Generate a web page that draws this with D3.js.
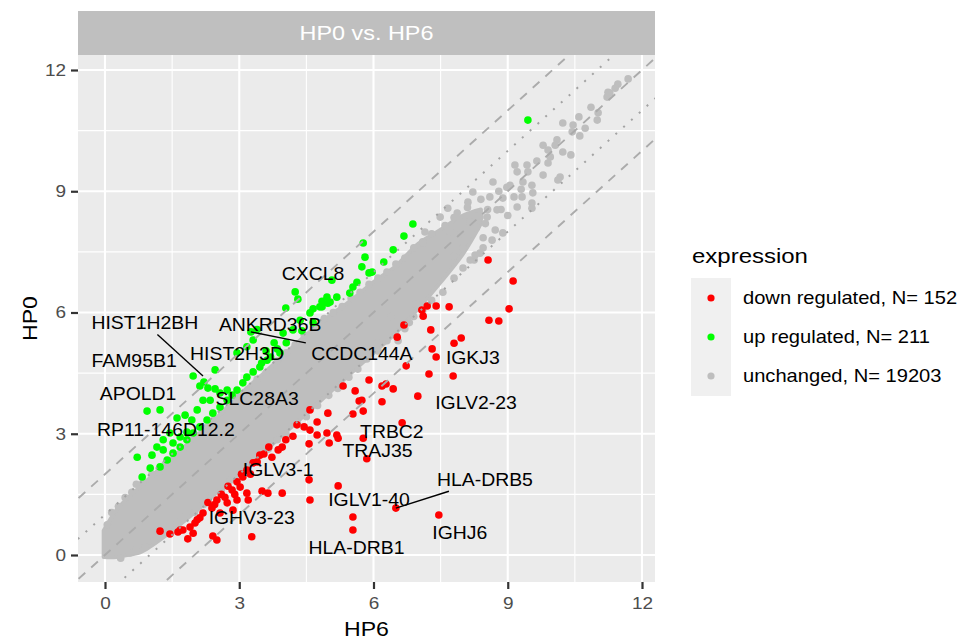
<!DOCTYPE html>
<html><head><meta charset="utf-8">
<script src="https://cdn.jsdelivr.net/npm/d3@7"></script>
<style>body{margin:0;background:#fff} text{font-family:"Liberation Sans",Arial,Helvetica,sans-serif}</style>
</head><body><svg id="c" width="959" height="641"></svg>
<script>
// ---------- data ----------
const xTicks = [0, 3, 6, 9, 12];
const yTicks = [0, 3, 6, 9, 12];
const minorTicks = [1.5, 4.5, 7.5, 10.5];
const refOffsets = [-2, -1, 0, 1, 2];
const refTypes = ["dashed", "dotted", "dashed", "dotted", "dashed"];

// dense core of the unchanged cloud (outline)
const cloudX     = [-0.03, 0.25, 0.5, 0.75, 1.0, 1.5, 2.0, 2.5, 3.0, 3.5, 4.0, 4.5, 5.0, 5.5, 6.0, 6.5, 7.0, 7.5, 8.0, 8.4];
const cloudUpper = [0.6, 1.1, 1.4, 1.65, 1.9, 2.4, 2.9, 3.4, 3.95, 4.45, 4.95, 5.45, 5.9, 6.3, 6.75, 7.15, 7.7, 8.05, 8.4, 8.55];
const cloudLower = [-0.05, -0.05, 0.0, 0.05, 0.2, 0.6, 1.05, 1.55, 2.0, 2.5, 3.0, 3.5, 4.0, 4.5, 5.0, 5.5, 6.1, 6.75, 7.45, 8.2];

const grayPts = [
 [0.05,0.75],[0.15,1.05],[0.3,1.2],[0.45,1.42],[0.6,1.55],[0.7,1.75],[0.85,1.8],[1.05,2.0],[1.2,2.05],[1.35,2.25],
 [1.55,2.45],[1.75,2.6],[1.9,2.85],[2.05,2.95],[2.25,3.15],[2.45,3.35],[2.6,3.55],[2.8,3.7],[3.0,3.95],[3.2,4.1],
 [3.4,4.35],[3.6,4.5],[3.85,4.8],[4.05,5.0],[4.25,5.2],[4.45,5.45],[4.7,5.65],[4.9,5.85],[5.1,6.0],[5.3,6.15],
 [5.5,6.35],[5.7,6.5],[5.9,6.7],[6.1,6.85],[6.3,7.0],[6.5,7.2],[6.7,7.35],[6.9,7.6],[7.1,7.75],[7.3,7.95],
 [7.6,8.15],[7.8,8.35],[8.1,8.6],[8.4,8.8],
 [0.35,-0.08],[0.55,0.05],[0.7,0.15],[0.9,0.2],[1.1,0.35],[1.3,0.5],[1.45,0.58],[1.6,0.8],[1.8,0.95],[2.0,1.05],
 [2.2,1.25],[2.4,1.5],[2.6,1.62],[2.8,1.85],[3.0,1.98],[3.2,2.2],[3.4,2.4],[3.65,2.62],[3.85,2.85],[4.05,2.98],
 [4.3,3.25],[4.5,3.42],[4.75,3.7],[5.0,3.95],[5.2,4.12],[5.45,4.4],[5.65,4.6],[5.85,4.85],[6.1,5.05],[6.3,5.3],
 [6.5,5.45],[6.7,5.6],[6.9,5.9],[7.1,6.05],[7.3,6.3],[7.55,6.5],[7.8,6.85],[8.0,7.1],[8.25,7.3],[8.45,7.6],
 [11.69,11.78],[11.46,11.65],[11.40,11.55],[11.28,11.43],[11.22,11.33],[11.24,11.45],
 [10.86,11.08],[11.02,10.94],[11.0,10.76],[10.59,10.84],[10.73,10.56],[10.61,10.37],[10.44,10.47],[10.46,10.64],[10.23,10.69],
 [10.10,10.27],[10.06,10.14],[9.79,10.14],[9.9,10.02],[10.23,9.97],[10.41,9.90],[10.17,9.35],[10.12,9.28],[9.9,9.70],
 [9.16,9.65],[9.43,9.65],[9.21,9.48],[9.45,9.48],[9.34,9.23],[9.79,9.40],[9.54,9.15],[9.56,8.96],[9.32,8.86],[9.05,9.15],
 [8.98,9.10],[8.67,9.23],[8.60,8.86],[8.22,8.98],[8.11,8.73],
 [9.14,8.86],[9.21,8.61],[9.54,8.71],[9.54,8.58],[8.89,8.83],[8.76,8.54],[8.54,8.36],[8.38,8.36],[7.87,8.46],[7.66,8.58],
 [7.49,8.36],[7.15,7.99],[7.11,7.72],[8.72,8.04],[8.89,7.97],[8.65,7.79],[8.38,7.47],[8.16,7.30],[8.27,7.42],
 [6.55,5.3],[6.8,5.75],[6.95,6.2],[5.95,5.05],[6.1,5.25],[6.4,5.9],
 [8.3,8.1],[8.5,8.2],[8.45,7.85],[8.0,7.6],[7.8,7.4],[7.7,8.0],[8.15,8.25],[7.95,7.95],[8.55,8.55],[8.85,8.55],
 [9.0,8.4],[9.3,9.05],[8.8,9.0],[9.65,9.75],[9.95,9.85]
];

const downPts = [
 [9.03,6.09],[8.58,5.81],[8.80,5.79],[7.96,5.37],[7.80,5.24],[7.28,5.57],[7.31,5.10],[7.40,4.90],[7.24,4.48],[7.78,4.43],
 [6.99,3.93],[6.64,3.27],[6.53,5.39],[6.68,5.69],[7.08,6.06],[7.20,6.16],[7.40,6.16],[7.69,6.14],[7.11,5.91],[6.73,4.68],
 [5.90,4.33],[6.19,4.18],[6.28,4.23],[6.44,4.11],[6.19,3.79],[5.74,3.83],[5.77,3.56],[5.77,2.89],[5.85,2.38],[6.50,1.16],
 [7.46,0.99],[8.56,7.30],[9.12,6.78],
 [5.32,4.18],[5.59,4.06],[5.68,3.81],[4.98,3.51],[5.54,3.49],[4.58,3.59],[4.74,3.29],[4.45,3.17],[4.29,3.22],[4.58,3.09],
 [4.20,2.94],[4.04,2.85],[3.96,2.67],[4.74,2.97],[4.96,3.02],[5.18,2.97],[5.21,2.89],[5.01,2.77],[4.56,2.75],[3.66,2.67],
 [3.87,2.60],[3.73,2.42],[3.46,2.47],[3.31,2.28],[3.17,2.10],[3.08,1.93],[2.95,1.81],[2.84,1.61],[2.68,1.43],[2.50,1.36],
 [2.39,1.16],[2.19,1.04],[2.06,0.87],[1.90,0.69],[3.51,1.58],[3.64,1.53],[3.96,1.53],[4.56,1.86],[4.58,1.36],[5.21,1.71],
 [5.54,0.94],[5.54,0.62],[3.28,0.45],[2.50,0.37],[2.41,0.47],[1.63,0.57],[1.85,0.40],[1.74,0.62],[1.97,0.54],[3.17,1.53],
 [2.95,1.36],[2.73,1.29],[2.57,1.04],[2.86,1.11],[3.20,1.36],[3.02,1.68],[2.12,0.92],[2.01,0.79],[1.68,0.62],[1.23,0.59],
 [1.45,0.52],[2.30,1.30],[2.60,1.50],[2.75,1.70],[2.90,1.50],[3.05,2.00],[3.25,2.00],[3.40,2.30],[3.55,2.50],[2.45,1.25]
];

const upPts = [
 [0.94,3.56],[1.23,3.59],[0.72,2.42],[1.01,2.15],[0.83,1.93],[1.97,4.43],[2.21,4.28],[2.46,4.58],[2.12,4.18],[2.30,4.13],
 [1.61,3.39],[1.79,3.46],[1.94,3.34],[2.06,3.59],[2.19,3.83],[2.46,4.11],[2.35,3.83],[2.57,4.01],[2.73,4.08],[1.05,2.47],
 [1.16,2.67],[1.30,2.85],[1.45,3.02],[1.30,2.60],[1.52,2.77],[1.68,2.92],[1.83,3.04],[2.95,5.00],[3.17,5.15],[3.31,5.32],
 [3.46,4.65],[3.62,4.82],[3.91,5.00],[3.98,5.49],[4.20,5.57],[4.36,5.81],[4.58,5.99],[4.80,6.14],[5.03,6.26],[3.17,4.40],
 [3.31,4.53],[3.08,4.26],[2.95,4.08],[2.84,3.96],[2.73,3.83],[2.57,3.66],[2.41,3.51],[2.28,3.34],[2.12,3.17],[1.97,3.02],
 [1.83,2.85],[1.68,2.67],[1.52,2.52],[1.39,2.35],[1.23,2.18],[5.77,7.72],[5.81,7.37],[5.74,7.13],[5.90,6.98],[4.25,6.51],
 [4.31,6.33],[5.07,6.80],[4.96,6.38],[5.18,6.38],[4.85,6.28],[4.98,6.23],[5.63,6.75],[5.47,6.48],[5.54,6.63],[9.45,10.76],
 [6.88,8.19],[6.68,7.89],[6.44,7.55],[6.23,7.25],[5.97,7.00],[3.26,5.52],[3.40,5.58],[4.04,6.11],[4.65,6.09],[4.85,6.14],
 [3.50,4.75],[3.70,4.90],[3.85,5.10],[4.05,5.25],[4.40,5.55],[4.65,5.75],[3.60,5.05],[3.78,5.25]
];

// gene labels: point position and repelled label position (data units)
const labelNames  = ["CXCL8","HIST1H2BH","ANKRD36B","CCDC144A","HIST2H3D","FAM95B1","APOLD1","SLC28A3","RP11-146D12.2",
                     "IGKJ3","IGLV2-23","TRBC2","TRAJ35","IGLV3-1","HLA-DRB5","IGLV1-40","IGHV3-23","IGHJ6","HLA-DRB1"];
const labelPointX = [4.31,2.19,3.40,3.26,2.46,2.12,0.94,3.31,1.23,7.40,7.78,6.64,5.85,3.46,6.50,5.21,1.90,7.46,5.54];
const labelPointY = [6.33,4.43,5.58,5.52,4.58,4.18,3.56,4.53,3.59,4.90,4.43,3.27,2.38,2.47,1.16,1.71,0.69,0.99,0.62];
const labelX      = [4.65,0.89,3.69,5.74,2.95,0.65,0.74,3.40,1.36,8.22,8.29,6.41,6.09,3.87,8.49,5.90,3.28,7.93,5.62];
const labelY      = [6.95,5.74,5.71,4.97,4.97,4.80,3.98,3.86,3.09,4.87,3.76,3.04,2.58,2.10,1.86,1.36,0.92,0.54,0.17];
const segmentLabels = ["HIST1H2BH","CCDC144A","HLA-DRB5"];

const legendLabels = ["down regulated, N= 152","up regulated, N= 211","unchanged, N= 19203"];
const legendColors = ["#FF0000","#00FF00","#BEBEBE"];

// ---------- drawing ----------
const svg = d3.select("#c");
const P = {l:78, r:655, t:55, b:582};
const x = d3.scaleLinear().domain([0,12]).range([105,642]);
const y = d3.scaleLinear().domain([0,12]).range([555,70]);

// text helper: horizontally widened glyphs (as in the reference rendering)
function addText(parent, tx, ty, str, size, sx, anchor, fill, rot) {
  const gg = parent.append("g").attr("transform", `translate(${tx},${ty})` + (rot ? ` rotate(${rot})` : "") + ` scale(${sx},1)`);
  return gg.append("text").attr("text-anchor", anchor).attr("font-size", size).attr("fill", fill).text(str);
}

// strip
svg.append("rect").attr("x",P.l).attr("y",11).attr("width",P.r-P.l).attr("height",P.t-11).attr("fill","#bfbfbf");
addText(svg, (P.l+P.r)/2, 40, "HP0 vs. HP6", 19.5, 1.2, "middle", "#ffffff");

// panel
svg.append("rect").attr("x",P.l).attr("y",P.t).attr("width",P.r-P.l).attr("height",P.b-P.t).attr("fill","#ebebeb");
svg.append("clipPath").attr("id","clip").append("rect")
   .attr("x",P.l).attr("y",P.t).attr("width",P.r-P.l).attr("height",P.b-P.t);
const g = svg.append("g").attr("clip-path","url(#clip)");

// grid
minorTicks.forEach(v=>{
  g.append("line").attr("x1",x(v)).attr("x2",x(v)).attr("y1",P.t).attr("y2",P.b).attr("stroke","#fff").attr("stroke-width",1.1);
  g.append("line").attr("y1",y(v)).attr("y2",y(v)).attr("x1",P.l).attr("x2",P.r).attr("stroke","#fff").attr("stroke-width",1.1);
});
xTicks.forEach(v=>g.append("line").attr("x1",x(v)).attr("x2",x(v)).attr("y1",P.t).attr("y2",P.b).attr("stroke","#fff").attr("stroke-width",2.1));
yTicks.forEach(v=>g.append("line").attr("y1",y(v)).attr("y2",y(v)).attr("x1",P.l).attr("x2",P.r).attr("stroke","#fff").attr("stroke-width",2.1));

// cloud core
const cloud = cloudX.map((v,i)=>({x:v,u:cloudUpper[i],l:cloudLower[i]}));
g.append("path").datum(cloud)
  .attr("d", d3.area().x(d=>x(d.x)).y0(d=>y(d.l)).y1(d=>y(d.u)).curve(d3.curveCatmullRom))
  .attr("fill","#bebebe").attr("stroke","#bebebe").attr("stroke-width",4).attr("stroke-linejoin","round");

const R = 3.8;
g.selectAll("circle.gray").data(grayPts).join("circle").attr("class","gray")
  .attr("cx",d=>x(d[0])).attr("cy",d=>y(d[1])).attr("r",R).attr("fill","#bebebe");
g.selectAll("circle.down").data(downPts).join("circle").attr("class","down")
  .attr("cx",d=>x(d[0])).attr("cy",d=>y(d[1])).attr("r",R).attr("fill","#FF0000");
g.selectAll("circle.up").data(upPts).join("circle").attr("class","up")
  .attr("cx",d=>x(d[0])).attr("cy",d=>y(d[1])).attr("r",R).attr("fill","#00FF00");

// reference lines y = x + k
refOffsets.forEach((k,i)=>{
  const dotted = refTypes[i]==="dotted";
  g.append("line").attr("x1",x(-2)).attr("y1",y(-2+k)).attr("x2",x(14)).attr("y2",y(14+k))
   .attr("stroke", dotted ? "#a3a3a3" : "#ababab")
   .attr("stroke-width", dotted ? 2 : 1.9)
   .attr("stroke-dasharray", dotted ? "2,8.5" : "9,8")
   .attr("stroke-linecap","butt");
});

// labels
const LSX = 1.11, LFS = 17.5;
const lg = svg.append("g");
labelNames.forEach((n,i)=>{
  const cx = x(labelX[i]), cy = y(labelY[i]);
  const t = addText(lg, cx, cy, n, LFS, LSX, "middle", "#000").attr("dy","0.36em");
  if (segmentLabels.includes(n)) {
    const bb = t.node().getBBox();
    const pad = 5;
    const px = x(labelPointX[i]), py = y(labelPointY[i]);
    const hw = bb.width*LSX/2 + pad, hh = bb.height/2 + 1.5;
    const dx = px-cx, dy = py-cy;
    const s = Math.min(Math.abs(hw/dx), Math.abs(hh/dy));
    lg.insert("line",":first-child").attr("x1",cx+dx*s).attr("y1",cy+dy*s).attr("x2",px).attr("y2",py)
      .attr("stroke","#000").attr("stroke-width",1.4);
  }
});

// axes
const TSX = 1.15, TFS = 16.5;
const xa = svg.append("g").attr("transform",`translate(0,${P.b})`)
  .call(d3.axisBottom(x).tickValues(xTicks).tickSize(7).tickPadding(8).tickFormat(d3.format("d")));
const ya = svg.append("g").attr("transform",`translate(${P.l},0)`)
  .call(d3.axisLeft(y).tickValues(yTicks).tickSize(7).tickPadding(5).tickFormat(d3.format("d")));
[xa,ya].forEach(a=>{
  a.select(".domain").remove();
  a.selectAll(".tick line").attr("stroke","#333").attr("stroke-width",2.2);
  a.selectAll(".tick text").attr("fill","#4d4d4d").attr("font-size",TFS)
   .attr("font-family",'"Liberation Sans",Arial,sans-serif');
});
xa.selectAll(".tick text").each(function(){
  const t = d3.select(this); const ty = +t.attr("y");
  t.attr("y",0).attr("transform",`translate(0,${ty}) scale(${TSX},1)`);
});
ya.selectAll(".tick text").each(function(){
  const t = d3.select(this); const tx = +t.attr("x");
  t.attr("x",0).attr("transform",`translate(${tx},0) scale(${TSX},1)`);
});

addText(svg, (P.l+P.r)/2, 636, "HP6", 21, 1.1, "middle", "#000");
addText(svg, 37, (P.t+P.b)/2, "HP0", 21, 1.1, "middle", "#000", -90);

// legend
addText(svg, 692, 263, "expression", 20.5, 1.17, "start", "#000");
svg.append("rect").attr("x",691).attr("y",278).attr("width",40).attr("height",118).attr("fill","#f0f0f0");
legendLabels.forEach((l,i)=>{
  const cy = 298 + i*39;
  svg.append("circle").attr("cx",711).attr("cy",cy).attr("r",3.6).attr("fill",legendColors[i]);
  addText(svg, 743, cy, l, 17.5, 1.15, "start", "#000").attr("dy","0.36em");
});
</script></body></html>
